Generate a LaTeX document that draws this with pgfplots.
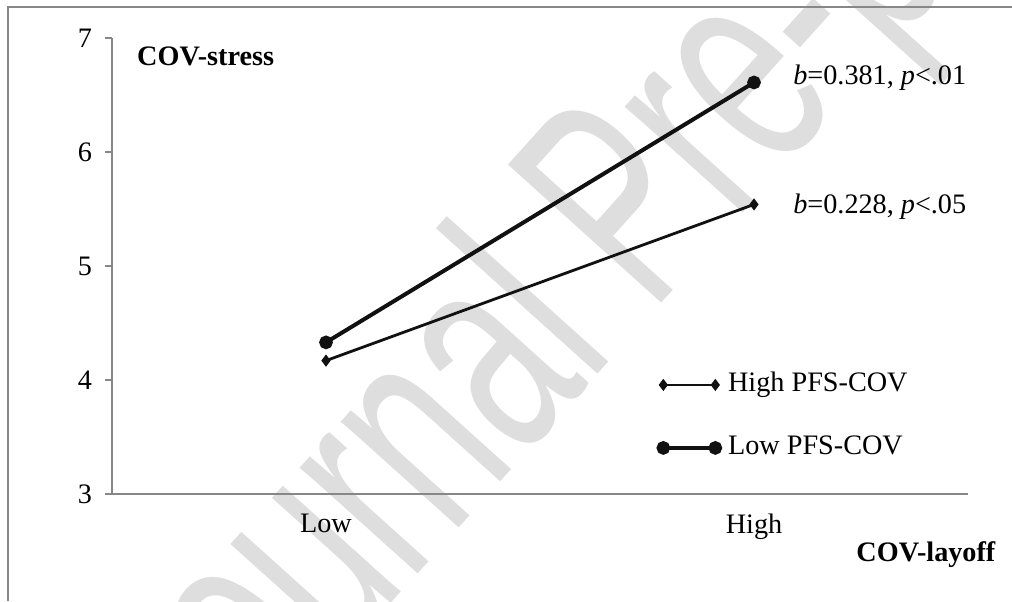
\documentclass[border=0pt]{standalone}
\usepackage{graphicx}
\usepackage{pgfplots}
\pgfplotsset{compat=1.18}
\usepackage{fontspec}
\setmainfont{Liberation Serif}
\newfontfamily\wmfont{Liberation Sans}
\definecolor{axgray}{HTML}{878787}
\definecolor{wm}{HTML}{DEDEDE}
\definecolor{ln}{HTML}{111111}
\newcommand{\fs}{\fontsize{14.1}{16}\selectfont}
\begin{document}
\begin{tikzpicture}
\useasboundingbox (0pt,0pt) rectangle (506pt,300.5pt);
\begin{scope}
\clip (0pt,0pt) rectangle (506pt,300.5pt);
\node[text=wm, font=\wmfont\fontsize{150}{150}\selectfont, rotate=48, inner sep=0pt] at (316pt,190.5pt) {\scalebox{0.62}[1]{Journal Pre-proof}};
\end{scope}
\draw[axgray, line width=1pt] (4pt,0pt) -- (4pt,297pt) -- (506pt,297pt);
\begin{axis}[
  at={(56pt,53.5pt)}, anchor=south west,
  scale only axis, width=428pt, height=228pt,
  xmin=0, xmax=2, ymin=3, ymax=7,
  axis x line=bottom, axis y line=left,
  axis line style={axgray, line width=1pt, -},
  every tick/.style={axgray, line width=1pt},
  tick align=outside,
  major tick length=3.5pt, minor tick length=3.5pt,
  ytick={3,4,5,6,7},
  xtick={0.5,1.5}, xticklabels={Low,High},
  xtick style={draw=none},
  minor xtick={0,1,2},
  font=\fs,
  /pgf/number format/assume math mode=true,
  yticklabel style={xshift=-3pt},
  xticklabel style={yshift=-3pt},
  xlabel={\textbf{COV-layoff}},
  xlabel style={at={(axis description cs:0.951,-0.134)}, anchor=center},
  legend image code/.code={\draw[#1] plot coordinates {(0pt,0pt) (26pt,0pt)};},
  legend style={draw=none, fill=none, at={(axis cs:1.276,4.07)}, anchor=north west,
    inner sep=0pt, row sep=19pt, column sep=4pt,
    nodes={inner sep=0pt, text height=9.5pt, text depth=3pt},
    font=\fs},
  legend cell align=left,
  clip=false,
]
\addplot[ln, line width=1.4pt, mark=diamond*, mark size=1.9pt, mark options={solid}] coordinates {(0.5,4.17) (1.5,5.54)};
\addlegendentry{High PFS-COV}
\addplot[ln, line width=2pt, mark=*, mark size=2.4pt] coordinates {(0.5,4.33) (1.5,6.61)};
\addlegendentry{Low PFS-COV}
\node[anchor=west, inner sep=0pt, font=\fs\bfseries] at (axis cs:0.058,6.84) {COV-stress};
\node[anchor=west, inner sep=0pt, font=\fs] at (axis cs:1.591,6.649) {\textit{b}=0.381, \textit{p}<.01};
\node[anchor=west, inner sep=0pt, font=\fs] at (axis cs:1.591,5.518) {\textit{b}=0.228, \textit{p}<.05};
\end{axis}
\end{tikzpicture}
\end{document}
